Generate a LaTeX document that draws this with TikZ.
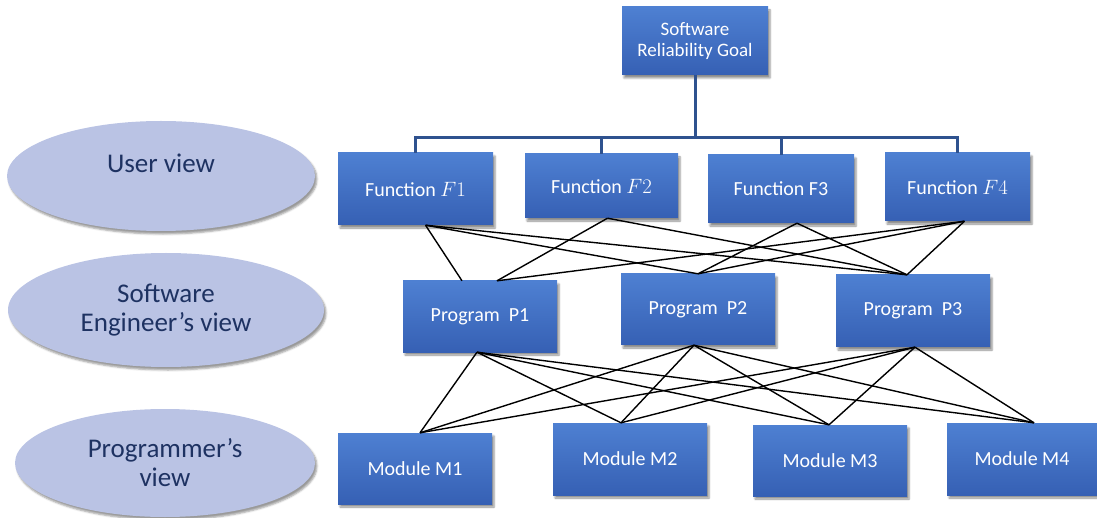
\documentclass[tikz,border=0pt]{standalone}
\usepackage{fontspec}
\setmainfont{Carlito}
\usetikzlibrary{shapes.geometric,shadows.blur}

\definecolor{boxtop}{RGB}{78,128,210}
\definecolor{boxbot}{RGB}{54,96,180}
\definecolor{viewfill}{RGB}{186,195,228}
\definecolor{viewtext}{RGB}{30,50,98}
\definecolor{treeline}{RGB}{47,82,143}

\begin{document}
\begin{tikzpicture}[
    x=1pt, y=-1pt,
    every node/.style={text centered},
    unit/.style={rectangle, top color=boxtop, bottom color=boxbot, text=white,
        minimum width=154pt, minimum height=71pt, inner sep=0pt,
        font=\fontsize{20}{22}\selectfont, align=center,
        blur shadow={shadow xshift=2pt, shadow yshift=-3pt, shadow opacity=45}},
    view/.style={ellipse, fill=viewfill, text=viewtext, inner sep=0pt,
        font=\fontsize{27}{29}\selectfont, align=center,
        blur shadow={shadow xshift=2pt, shadow yshift=-3pt, shadow opacity=40}},
    tree/.style={draw=treeline, line width=3pt},
    link/.style={draw=black, line width=1.4pt}
]
\useasboundingbox (0,0) rectangle (1097,518);

% views on the left
\node[view, minimum width=308pt, minimum height=110pt, text depth=25pt] (user_view) at (161,176) {User view};
\node[view, minimum width=316pt, minimum height=114pt] (engineer_view) at (166,310) {Software\\Engineer’s view};
\node[view, minimum width=300pt, minimum height=108pt] (programmer_view) at (165,463) {Programmer’s\\view};

% goal and functions
\node[unit, minimum width=146pt, minimum height=68pt, font=\fontsize{19}{21}\selectfont] (goal) at (695,41) {Software\\Reliability Goal};

\node[unit, minimum width=155pt, minimum height=72pt] (f1) at (415.5,189) {Function $F1$};
\node[unit, minimum width=153pt, minimum height=64pt] (f2) at (601.5,186) {Function $F2$};
\node[unit, minimum width=146pt, minimum height=68pt] (f3) at (781,189) {Function F3};
\node[unit, minimum width=145pt, minimum height=68pt] (f4) at (957.5,187) {Function $F4$};

% programs
\node[unit] (p1) at (480,316.5) {Program~~P1};
\node[unit] (p2) at (698,309.5) {Program~~P2};
\node[unit, minimum height=72pt] (p3) at (913,311) {Program~~P3};

% modules
\node[unit] (m1) at (415,468.5) {Module M1};
\node[unit, minimum height=72pt] (m2) at (630,459) {Module M2};
\node[unit] (m3) at (830,460.5) {Module M3};
\node[unit, minimum width=150pt, minimum height=72pt] (m4) at (1022,459) {Module M4};

% tree from the goal
\coordinate (split) at (695,138);
\draw[tree] (goal.south) -- (split);
\draw[tree] (f1.north) |- (split) -| (f4.north);
\draw[tree] (f2.north) -- (f2.north |- split);
\draw[tree] (f3.north) -- (f3.north |- split);

% connector ends
\coordinate (f1_out) at ([xshift=10pt]f1.south);
\coordinate (f2_out) at ([xshift=6pt]f2.south);
\coordinate (f3_out) at ([xshift=16pt]f3.south);
\coordinate (f4_out) at ([xshift=7pt]f4.south);
\coordinate (p1_in_a) at ([xshift=-18pt]p1.north);
\coordinate (p1_in_b) at ([xshift=17pt]p1.north);
\coordinate (p2_in) at (p2.north);
\coordinate (p3_in) at ([xshift=-6pt]p3.north);
\coordinate (p1_out) at ([xshift=-3pt]p1.south);
\coordinate (p2_out) at ([xshift=-4pt]p2.south);
\coordinate (p3_out) at ([xshift=2pt]p3.south);
\coordinate (m1_in) at ([xshift=5pt]m1.north);
\coordinate (m2_in) at ([xshift=-9pt]m2.north);
\coordinate (m3_in) at ([xshift=-1pt]m3.north);
\coordinate (m4_in) at ([xshift=12pt]m4.north);

% functions to programs
\draw[link] (f1_out) -- (p1_in_a);
\draw[link] (f1_out) -- (p2_in);
\draw[link] (f1_out) -- (p3_in);
\draw[link] (f2_out) -- (p1_in_b);
\draw[link] (f2_out) -- (p3_in);
\draw[link] (f3_out) -- (p2_in);
\draw[link] (f3_out) -- (p3_in);
\draw[link] (f4_out) -- (p1_in_b);
\draw[link] (f4_out) -- (p2_in);
\draw[link] (f4_out) -- (p3_in);

% programs to modules
\foreach \p in {p1,p2,p3}
  \foreach \m in {m1,m2,m3,m4}
    \draw[link] (\p_out) -- (\m_in);

\end{tikzpicture}
\end{document}
